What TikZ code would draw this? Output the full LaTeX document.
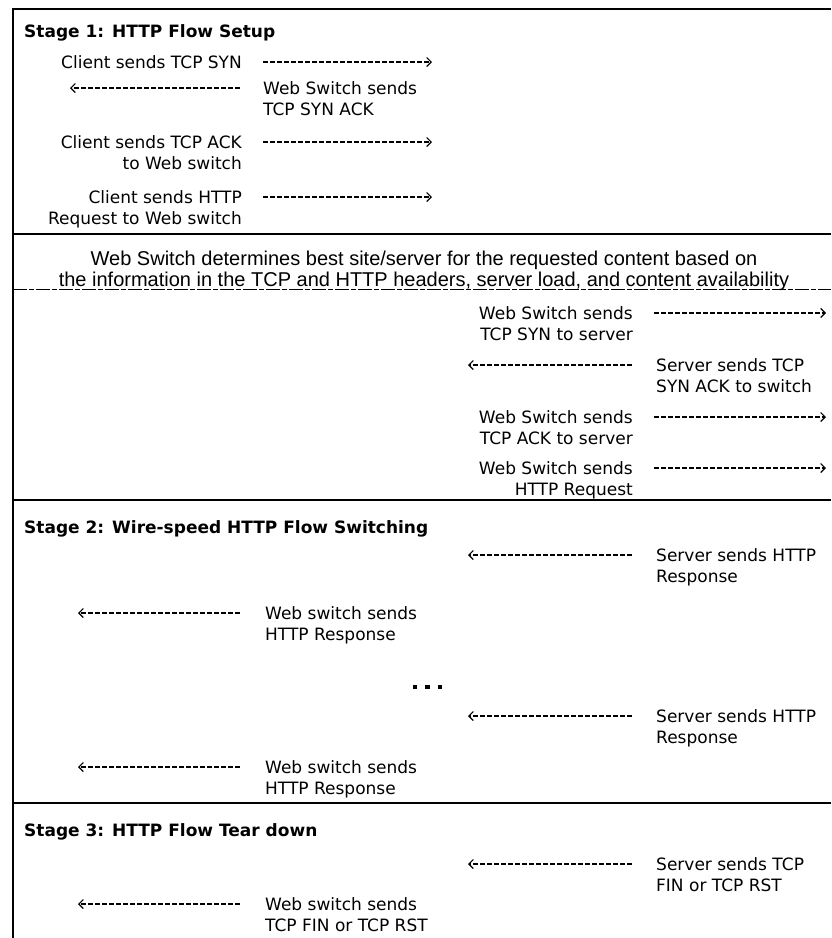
\documentclass[tikz,border=0pt]{standalone}
\usepackage{fontspec}
\setmainfont{DejaVu Sans}
\newfontfamily\notefont{Liberation Sans}
\usetikzlibrary{arrows.meta}

\tikzset{
  frame/.style={line width=1.8pt},
  sepdash/.style={line width=1pt, dash pattern=on 14pt off 2pt on 5pt off 2pt},
  lbl/.style={inner sep=0pt, font=\fontsize{17}{21}\selectfont},
  lblleft/.style={lbl, anchor=north east, align=right},
  lblright/.style={lbl, anchor=north west, align=left},
  stagetitle/.style={inner sep=0pt, anchor=base west, font=\fontsize{17}{21}\selectfont\bfseries},
  note/.style={inner sep=0pt, anchor=north, align=center, font=\notefont\fontsize{20}{21}\selectfont},
  msg/.style={line width=1.1pt, dash pattern=on 5pt off 2pt, -{Straight Barb[length=4.5pt,width=9pt]}},
  dot/.style={fill=black, draw=none, minimum size=4.5pt, inner sep=0pt},
}

\begin{document}
\begin{tikzpicture}[x=1pt,y=-1pt]
\useasboundingbox (0,0) rectangle (831,938);
\clip (0,0) rectangle (831,938);

% outer frame and stage separators
\draw[frame] (13,938) -- (13,9) -- (831,9);
\draw[frame] (13,234) -- (831,234);
\draw[sepdash] (13,289) -- (831,289);
\draw[frame] (13,500) -- (831,500);
\draw[frame] (13,803) -- (831,803);

% ---------------- Stage 1 ----------------
\node[stagetitle] (t1) at (24,37) {Stage 1: HTTP Flow Setup};

\node[lblleft]  (c1) at (242,55.5)  {Client sends TCP SYN};
\node[lblright] (w1) at (263,81.5)  {Web Switch sends\\TCP SYN ACK};
\node[lblleft]  (c2) at (242,135.5) {Client sends TCP ACK\\to Web switch};
\node[lblleft]  (c3) at (242,190.5) {Client sends HTTP\\Request to Web switch};

\coordinate (a1s) at (263,62);  \coordinate (a1e) at (432,62);
\coordinate (a2s) at (240,88);  \coordinate (a2e) at (70,88);
\coordinate (a3s) at (263,142); \coordinate (a3e) at (432,142);
\coordinate (a4s) at (263,197); \coordinate (a4e) at (432,197);
\draw[msg] (a1s) -- (a1e);
\draw[msg] (a2s) -- (a2e);
\draw[msg] (a3s) -- (a3e);
\draw[msg] (a4s) -- (a4e);

\node[note] (decide) at (424,251)
  {Web Switch determines best site/server for the requested content based on\\
   the information in the TCP and HTTP headers, server load, and content availability};

\node[lblleft]  (w2) at (633,306.5) {Web Switch sends\\TCP SYN to server};
\node[lblright] (s1) at (656,358.5) {Server sends TCP\\SYN ACK to switch};
\node[lblleft]  (w3) at (633,410.5) {Web Switch sends\\TCP ACK to server};
\node[lblleft]  (w4) at (633,461.5) {Web Switch sends\\HTTP Request};

\coordinate (b1s) at (654,313); \coordinate (b1e) at (826,313);
\coordinate (b2s) at (632,365); \coordinate (b2e) at (468,365);
\coordinate (b3s) at (654,417); \coordinate (b3e) at (826,417);
\coordinate (b4s) at (654,468); \coordinate (b4e) at (826,468);
\draw[msg] (b1s) -- (b1e);
\draw[msg] (b2s) -- (b2e);
\draw[msg] (b3s) -- (b3e);
\draw[msg] (b4s) -- (b4e);

% ---------------- Stage 2 ----------------
\node[stagetitle] (t2) at (24,533) {Stage 2: Wire-speed HTTP Flow Switching};

\node[lblright] (s2) at (656,548.5) {Server sends HTTP\\Response};
\node[lblright] (w5) at (265,606.5) {Web switch sends\\HTTP Response};
\node[lblright] (s3) at (656,709.5) {Server sends HTTP\\Response};
\node[lblright] (w6) at (265,760.5) {Web switch sends\\HTTP Response};

\coordinate (c1s) at (632,555); \coordinate (c1e) at (468,555);
\coordinate (c2s) at (240,613); \coordinate (c2e) at (78,613);
\coordinate (c3s) at (632,716); \coordinate (c3e) at (468,716);
\coordinate (c4s) at (240,767); \coordinate (c4e) at (78,767);
\draw[msg] (c1s) -- (c1e);
\draw[msg] (c2s) -- (c2e);
\draw[msg] (c3s) -- (c3e);
\draw[msg] (c4s) -- (c4e);

\node[dot] (d1) at (415,687) {};
\node[dot] (d2) at (427.5,687) {};
\node[dot] (d3) at (440,687) {};

% ---------------- Stage 3 ----------------
\node[stagetitle] (t3) at (24,836) {Stage 3: HTTP Flow Tear down};

\node[lblright] (s4) at (656,857.5) {Server sends TCP\\FIN or TCP RST};
\node[lblright] (w7) at (265,897.5) {Web switch sends\\TCP FIN or TCP RST};

\coordinate (e1s) at (632,864); \coordinate (e1e) at (468,864);
\coordinate (e2s) at (240,904); \coordinate (e2e) at (78,904);
\draw[msg] (e1s) -- (e1e);
\draw[msg] (e2s) -- (e2e);

\end{tikzpicture}
\end{document}
